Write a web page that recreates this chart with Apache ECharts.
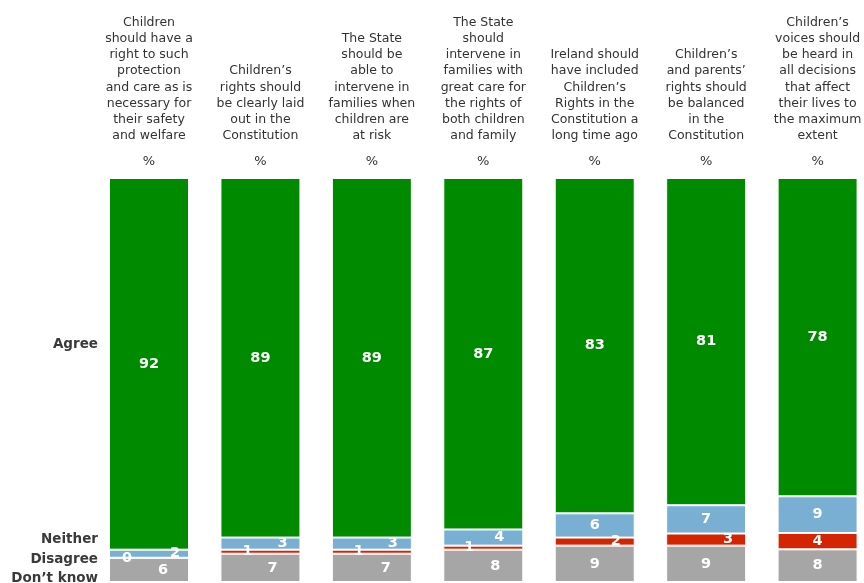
<!DOCTYPE html>
<html>
<head>
<meta charset="utf-8">
<script src="https://cdn.jsdelivr.net/npm/echarts@6/dist/echarts.min.js"></script>
<style>
  html, body { margin: 0; padding: 0; background: #fff; }
  #chart { width: 864px; height: 583px; }
</style>
</head>
<body>
<div id="chart"></div>
<script>
// statements, wrapped as in the original header
var categories = [
    'Children\nshould have a\nright to such\nprotection\nand care as is\nnecessary for\ntheir safety\nand welfare',
    'Children\u2019s\nrights should\nbe clearly laid\nout in the\nConstitution',
    'The State\nshould be\nable to\nintervene in\nfamilies when\nchildren are\nat risk',
    'The State\nshould\nintervene in\nfamilies with\ngreat care for\nthe rights of\nboth children\nand family',
    'Ireland should\nhave included\nChildren\u2019s\nRights in the\nConstitution a\nlong time ago',
    'Children\u2019s\nand parents\u2019\nrights should\nbe balanced\nin the\nConstitution',
    'Children\u2019s\nvoices should\nbe heard in\nall decisions\nthat affect\ntheir lives to\nthe maximum\nextent'
];

var dontKnow = [6, 7, 7, 8, 9, 9, 8];
var disagree = [0, 1, 1, 1, 2, 3, 4];
var neither  = [2, 3, 3, 4, 6, 7, 9];
var agree    = [92, 89, 89, 87, 83, 81, 78];

// label nudges (x px), the source chart shifts small labels sideways
var shiftDontKnow = [14, 12, 14, 12, 0, 0, 0];
var shiftDisagree = [-22, -13, -13, -14, 21, 22, 0];
var shiftNeither  = [26, 22, 21, 16, 0, 0, 0];
var shiftAgree    = [0, 0, 0, 0, 0, 0, 0];

var FONT = 'DejaVu Sans';

// 100% stacked: every column is scaled to its own total
var totals = [];
for (var k = 0; k < categories.length; k++) {
    totals.push(dontKnow[k] + disagree[k] + neither[k] + agree[k]);
}

function makeData(values, shifts){
    var out = [];
    for (var i = 0; i < values.length; i++) {
        out.push({ value: values[i] / totals[i] * 100, raw: values[i], label: { offset: [shifts[i], 0] } });
    }
    return out;
}

function makeSeries(name, values, shifts, color){
    return {
        name: name,
        type: 'bar',
        stack: 'total',
        barWidth: 80,
        itemStyle: { color: color, borderColor: '#ffffff', borderWidth: 1 },
        label: {
            show: true,
            position: 'inside',
            color: '#ffffff',
            fontFamily: FONT,
            fontWeight: 'bold',
            fontSize: 14.5,
            formatter: function(p){ return String(values[p.dataIndex]); }
        },
        data: makeData(values, shifts)
    };
}

var myChart = echarts.init(document.getElementById('chart'));
var option = {
    animation: false,
    backgroundColor: '#ffffff',
    grid: { left: 93.3, top: 178, width: 780, bottom: 1, outerBoundsMode: 'none', containLabel: false },
    xAxis: {
        type: 'category',
        position: 'top',
        data: categories,
        axisLine: { show: false },
        axisTick: { show: false },
        axisLabel: {
            interval: 0,
            margin: -2,
            formatter: function(v){ return '{t|' + v.split('\n').join('}\n{t|') + '}\n{p|%}'; },
            rich: {
                t: { fontFamily: FONT, fontSize: 12.5, color: '#333333', lineHeight: 16.2, align: 'center' },
                p: { fontFamily: FONT, fontSize: 13, color: '#333333', lineHeight: 36, align: 'center' }
            }
        }
    },
    yAxis: {
        type: 'value',
        min: 0,
        max: 100,
        show: false
    },
    series: [
        makeSeries('Don\u2019t know', dontKnow, shiftDontKnow, '#a6a6a6'),
        makeSeries('Disagree', disagree, shiftDisagree, '#d42400'),
        makeSeries('Neither', neither, shiftNeither, '#79afd3'),
        makeSeries('Agree', agree, shiftAgree, '#008a00')
    ],
    graphic: [
        { type: 'text', right: 766, top: 337, style: { text: 'Agree', fill: '#3a3a3a', font: 'bold 13.5px "DejaVu Sans"' } },
        { type: 'text', right: 766, top: 532, style: { text: 'Neither', fill: '#3a3a3a', font: 'bold 13.5px "DejaVu Sans"' } },
        { type: 'text', right: 766, top: 552, style: { text: 'Disagree', fill: '#3a3a3a', font: 'bold 13.5px "DejaVu Sans"' } },
        { type: 'text', right: 766, top: 571, style: { text: 'Don\u2019t know', fill: '#3a3a3a', font: 'bold 13.5px "DejaVu Sans"' } }
    ]
};
myChart.setOption(option);
</script>
</body>
</html>
